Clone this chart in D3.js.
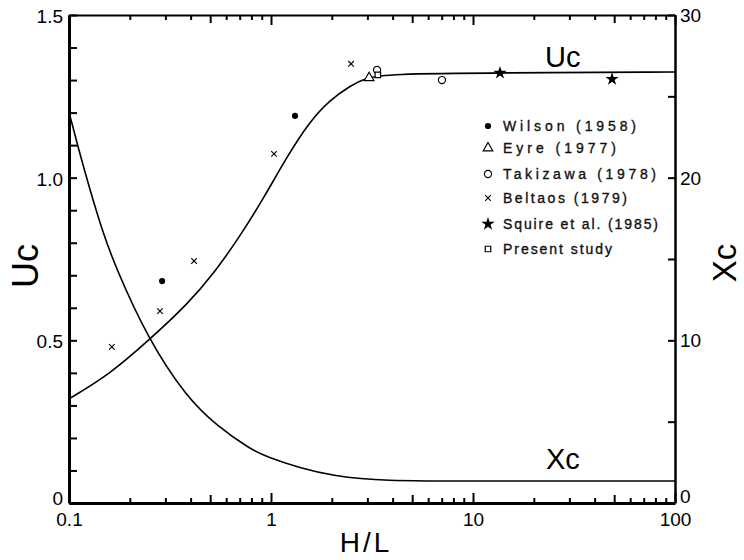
<!DOCTYPE html>
<html>
<head>
<meta charset="utf-8">
<script src="https://cdn.jsdelivr.net/npm/d3@7"></script>
<style>
  html, body { margin: 0; padding: 0; background: #fff; }
  svg { display: block; font-family: "Liberation Sans", Arial, sans-serif; }
</style>
</head>
<body>
<svg id="chart" width="744" height="560"></svg>
<script>
// ---------------- data ----------------
// Fitted Uc curve (left axis)
const ucCurveX = [0.1, 0.160, 0.246, 0.384, 0.528, 0.703, 0.902, 1.214, 1.56, 1.96, 2.46, 2.92, 3.75, 13.5, 100];
const ucCurveY = [0.320, 0.397, 0.498, 0.609, 0.710, 0.821, 0.928, 1.070, 1.174, 1.239, 1.282, 1.306, 1.319, 1.322, 1.325];
// Fitted Xc curve (right axis)
const xcCurveX = [0.1, 0.1095, 0.127, 0.147, 0.169, 0.246, 0.384, 0.541, 0.787, 0.957, 1.39, 2.03, 3.58, 10, 100];
const xcCurveY = [24.04, 22.13, 19.24, 16.66, 14.57, 10.08, 6.46, 4.73, 3.32, 2.83, 2.15, 1.66, 1.35, 1.35, 1.35];

// Experimental points (H/L, Uc)
const wilsonX   = [0.289, 1.315];          const wilsonU   = [0.682, 1.19];
const eyreX     = [3.06];                  const eyreU     = [1.307];
const takizawaX = [3.35, 7.02];            const takizawaU = [1.331, 1.300];
const beltaosX  = [0.163, 0.282, 0.416, 1.035, 2.49];
const beltaosU  = [0.480, 0.590, 0.744, 1.073, 1.350];
const squireX   = [13.6, 48.8];            const squireU   = [1.322, 1.303];
const presentX  = [3.38];                  const presentU  = [1.316];

const legendLabels = ["Wilson (1958)", "Eyre (1977)", "Takizawa (1978)", "Beltaos (1979)", "Squire et al. (1985)", "Present study"];
const legendSymbols = ["dot", "triangle", "circle", "times", "star", "square"];

const leftTicks  = d3.range(16).map(i => i / 10);
const leftLabels = ["0", "0.5", "1.0", "1.5"];
const rightTicks = [0, 5, 10, 15, 20, 25, 30];
const rightLabels = ["0", "10", "20", "30"];
const xDecades = [0.1, 1, 10, 100];
const xLabels = ["0.1", "1", "10", "100"];

// ---------------- layout ----------------
const L = 69, R = 675, T = 15, B = 503;
const legendTextWidths = [133, 113, 153, 124, 155, 109];
const legendRowY = [126, 148, 174, 198, 224, 249];

const svg = d3.select("#chart");
const x = d3.scaleLog().domain([0.1, 100]).range([L, R]);
const yL = d3.scaleLinear().domain([0, 1.5]).range([B, T]);
const yR = d3.scaleLinear().domain([0, 30]).range([B, T]);

// log tick values 0.1..100
const xTicks = [];
xDecades.slice(0, 3).forEach(d => { for (let m = 1; m <= 9; m++) xTicks.push(+(d * m).toPrecision(3)); });
xTicks.push(100);
function xTickLen(v) {
  const m = +(v / Math.pow(10, Math.floor(Math.log10(v) + 1e-9))).toPrecision(3);
  if (m === 1) return 10;
  if (m === 5) return 8;
  return 5;
}

// ---------------- curves ----------------
const ucLine = d3.line().x(i => x(ucCurveX[i])).y(i => yL(ucCurveY[i])).curve(d3.curveBasis);
const xcLine = d3.line().x(i => x(xcCurveX[i])).y(i => yR(xcCurveY[i])).curve(d3.curveBasis);
svg.append("path").attr("d", ucLine(d3.range(ucCurveX.length)))
  .attr("fill", "none").attr("stroke", "#000").attr("stroke-width", 1.6);
svg.append("path").attr("d", xcLine(d3.range(xcCurveX.length)))
  .attr("fill", "none").attr("stroke", "#000").attr("stroke-width", 1.6);

// ---------------- axes ----------------
function styleAxis(g, width) {
  g.select(".domain").attr("stroke", "#000").attr("stroke-width", width);
  g.selectAll(".tick line").attr("stroke", "#000").attr("stroke-width", 2);
  g.selectAll(".tick text").attr("fill", "#000").attr("font-size", 19);
}

const gLeft = svg.append("g").attr("transform", `translate(${L},0)`)
  .call(d3.axisLeft(yL).tickValues(leftTicks).tickSizeInner(-8).tickSizeOuter(0).tickPadding(6)
    .tickFormat(d => { const k = Math.round(d * 10); return k % 5 === 0 ? leftLabels[k / 5] : ""; }));
styleAxis(gLeft, 3);
gLeft.selectAll(".tick text").attr("dy", (d) => d === 0 ? "0.1em" : "0.4em");

const gRight = svg.append("g").attr("transform", `translate(${R},0)`)
  .call(d3.axisRight(yR).tickValues(rightTicks).tickSizeInner(-7).tickSizeOuter(0).tickPadding(5)
    .tickFormat(d => d % 10 === 0 ? rightLabels[d / 10] : ""));
styleAxis(gRight, 2.5);
gRight.selectAll(".tick text").attr("dy", (d) => d === 0 ? "-0.05em" : "0.35em");

const gBottom = svg.append("g").attr("transform", `translate(0,${B})`)
  .call(d3.axisBottom(x).tickValues(xTicks).tickSizeInner(-5).tickSizeOuter(0).tickPadding(10)
    .tickFormat(d => { const i = xDecades.indexOf(d); return i >= 0 ? xLabels[i] : ""; }));
styleAxis(gBottom, 3);
gBottom.selectAll(".tick line").attr("y2", d => -xTickLen(d));

const gTop = svg.append("g").attr("transform", `translate(0,${T})`)
  .call(d3.axisTop(x).tickValues(xTicks).tickSizeInner(-5).tickSizeOuter(0).tickFormat(""));
styleAxis(gTop, 2);
gTop.selectAll(".tick line").attr("y2", d => xTickLen(d));

// ---------------- markers ----------------
const timesSym = d3.symbolTimes || d3.symbolX || {
  draw(ctx, size) { const r = Math.sqrt(size) / 2; ctx.moveTo(-r, -r); ctx.lineTo(r, r); ctx.moveTo(-r, r); ctx.lineTo(r, -r); }
};
const symDefs = {
  dot:      { type: d3.symbolCircle,   size: 30, fill: "#000", stroke: "none", sw: 0 },
  triangle: { type: d3.symbolTriangle, size: 40, fill: "#fff", stroke: "#000", sw: 1.2 },
  circle:   { type: d3.symbolCircle,   size: 40, fill: "#fff", stroke: "#000", sw: 1.2 },
  times:    { type: timesSym,          size: 22, fill: "none", stroke: "#000", sw: 1.1 },
  star:     { type: d3.symbolStar,     size: 55, fill: "#000", stroke: "none", sw: 0 },
  square:   { type: d3.symbolSquare,   size: 30, fill: "#fff", stroke: "#000", sw: 1.2 }
};
function drawSym(kind, cx, cy) {
  const s = symDefs[kind];
  svg.append("path").attr("d", d3.symbol().type(s.type).size(s.size)())
    .attr("transform", `translate(${cx},${cy})`)
    .attr("fill", s.fill).attr("stroke", s.stroke).attr("stroke-width", s.sw);
}
const sets = [
  [wilsonX, wilsonU, "dot"], [beltaosX, beltaosU, "times"], [eyreX, eyreU, "triangle"],
  [takizawaX, takizawaU, "circle"], [squireX, squireU, "star"], [presentX, presentU, "square"]
];
sets.forEach(([xs, us, k]) => xs.forEach((v, i) => drawSym(k, x(v), yL(us[i]))));

// ---------------- legend ----------------
legendLabels.forEach((lab, i) => {
  drawSym(legendSymbols[i], 488, legendRowY[i]);
  svg.append("text").attr("x", 503).attr("y", legendRowY[i]).attr("dy", "0.36em")
    .attr("font-size", 14).attr("fill", "#111").attr("stroke", "#111").attr("stroke-width", 0.35)
    .attr("textLength", legendTextWidths[i]).attr("lengthAdjust", "spacing")
    .text(lab);
});

// ---------------- curve labels & axis titles ----------------
svg.append("text").attr("x", 545).attr("y", 67).attr("font-size", 29).text("Uc");
svg.append("text").attr("x", 546).attr("y", 469).attr("font-size", 29).text("Xc");
svg.append("text").attr("x", 366).attr("y", 552).attr("text-anchor", "middle")
  .attr("font-size", 28).attr("letter-spacing", 3).text("H/L");
svg.append("text").attr("transform", "translate(38,266) rotate(-90)").attr("text-anchor", "middle")
  .attr("font-size", 36).text("Uc");
svg.append("text").attr("transform", "translate(736,263) rotate(-90)").attr("text-anchor", "middle")
  .attr("font-size", 33).text("Xc");
</script>
</body>
</html>
